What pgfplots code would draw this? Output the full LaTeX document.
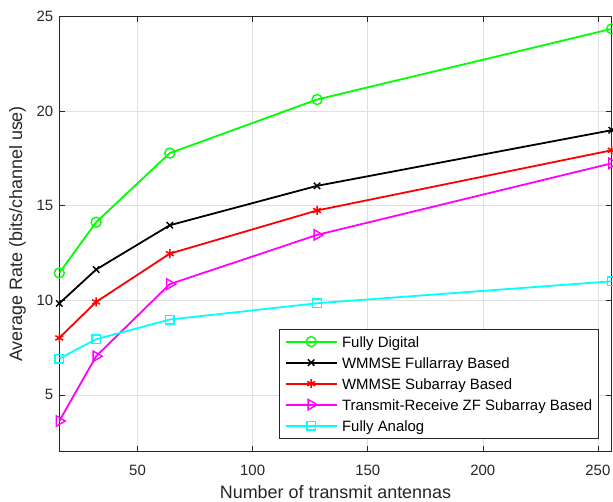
\documentclass[border=0pt]{standalone}
\usepackage{pgfplots}
\pgfplotsset{compat=1.18}
\usepackage{fontspec}
\setmainfont{Liberation Sans}
\definecolor{axgray}{HTML}{262626}
\definecolor{mgreen}{HTML}{00FF00}
\definecolor{mcyan}{HTML}{00FFFF}
\definecolor{mmag}{HTML}{FF00FF}
\begin{document}
\begin{tikzpicture}[x=1bp,y=1bp]
\begin{axis}[
  scale only axis,
  width=552.4bp, height=435.5bp,
  xmin=16, xmax=256, ymin=2, ymax=25,
  xtick={50,100,150,200,250},
  ytick={5,10,15,20,25},
  tick align=inside,
  xtick pos=both, ytick pos=both,
  major tick length=5.5bp,
  grid=major,
  grid style={gray!25, line width=0.6bp},
  axis line style={axgray, line width=0.7bp},
  every tick/.style={axgray, line width=0.6bp},
  tick label style={font=\fontsize{15}{17}\selectfont, text=axgray},
  xticklabel style={yshift=-9.5bp},
  yticklabel style={xshift=-2.5bp},
  /pgf/number format/assume math mode=true,
  xlabel={Number of transmit antennas},
  ylabel={Average Rate (bits/channel use)},
  label style={font=\fontsize{18}{20}\selectfont, text=axgray},
  xlabel style={at={(axis description cs:0.5,-0.1075)}, anchor=base},
  ylabel style={at={(axis description cs:-0.0675,0.5)}, anchor=base},
  legend style={at={(0.9757,0.0308)}, anchor=south east,
    font=\fontsize{15}{17}\selectfont,
    draw=axgray, line width=0.7bp, inner xsep=5.6bp, inner ysep=1.8bp,
    row sep=0bp, column sep=4.4bp,
    nodes={inner sep=0bp, text height=15.9bp, text depth=5.1bp},
    cells={anchor=west}},
  legend image code/.code={%
    \draw[line width=2bp] (0bp,0bp) -- (51bp,0bp);
    \draw plot coordinates {(25.5bp,0bp)};},
]
\addplot[mgreen, line width=1.8bp, mark=o, mark size=5bp, mark options={solid, line width=1.4bp}]
  coordinates {(16,11.44) (32,14.12) (64,17.77) (128,20.60) (256,24.33)};
\addlegendentry{Fully Digital}
\addplot[black, line width=1.8bp, mark=x, mark size=4.5bp, mark options={solid, line width=1.4bp}]
  coordinates {(16,9.83) (32,11.62) (64,13.96) (128,16.04) (256,18.98)};
\addlegendentry{WMMSE Fullarray Based}
\addplot[red, line width=1.8bp, mark=asterisk, mark size=4.5bp, mark options={solid, line width=1.5bp}]
  coordinates {(16,8.01) (32,9.91) (64,12.46) (128,14.74) (256,17.92)};
\addlegendentry{WMMSE Subarray Based}
\addplot[mmag, line width=1.8bp, mark=triangle, mark size=6bp, mark options={solid, rotate=-90, line width=1.4bp}]
  coordinates {(16,3.62) (32,7.04) (64,10.85) (128,13.45) (256,17.23)};
\addlegendentry{Transmit-Receive ZF Subarray Based}
\addplot[mcyan, line width=1.8bp, mark=square, mark size=4.3bp, mark options={solid, line width=1.4bp}]
  coordinates {(16,6.92) (32,7.94) (64,8.98) (128,9.84) (256,11.00)};
\addlegendentry{Fully Analog}
\end{axis}
\pgfresetboundingbox
\path[use as bounding box] (-59.3bp,-50.3bp) rectangle (553.7bp,451.7bp);
\end{tikzpicture}
\end{document}
